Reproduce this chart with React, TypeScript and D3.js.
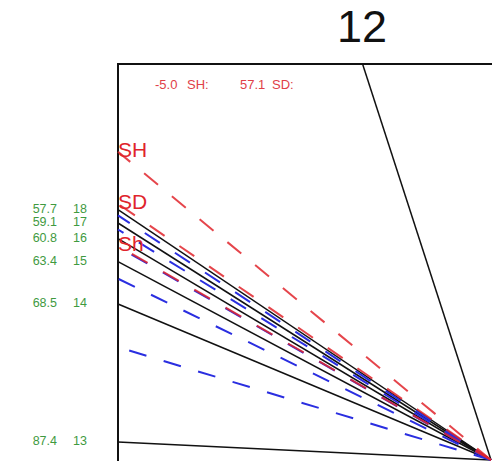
import { useRef, useEffect } from 'react'
import * as d3 from 'd3'

// angles (deg from vertical) of the fan lines, all meeting at the pivot
const levels = ['18', '17', '16', '15', '14', '13']
const levelAngles = [57.7, 59.1, 60.8, 63.4, 68.5, 87.4]
const blueAngles = [58.3, 59.8, 61.7, 65.4, 74.1]
const redLabels = ['SH', 'SD', 'Sh']
const redAngles = [52.1, 57.1, 61.6]
const refAngle = 19
const headerTexts = ['-5.0', 'SH:', '57.1', 'SD:']
const title = '12'

const W = 492
const H = 461
const FONT = "Arial, 'Liberation Sans', sans-serif"

export default function App() {
  const svgRef = useRef<SVGSVGElement>(null)

  useEffect(() => {
    const svg = d3.select(svgRef.current)
    svg.selectAll('*').remove()

    const left = 118
    const top = 64
    const px = 491
    const py = 460

    const x = d3.scaleLinear().domain([-1, 0]).range([left, px])
    const y = d3.scaleLinear().domain([0, 1]).range([py, top])
    const rad = (a: number) => (a * Math.PI) / 180

    // end of a ray at angle a, clipped to the left / top edge
    const rayEnd = (a: number): [number, number] => {
      const c = 1 / Math.tan(rad(a))
      return c <= 1 ? [-1, c] : [-Math.tan(rad(a)), 1]
    }
    const line = d3
      .line<[number, number]>()
      .x((d) => x(d[0]))
      .y((d) => y(d[1]))
    const ray = (a: number) => line([[0, 0], rayEnd(a)])

    // title
    svg
      .append('text')
      .attr('x', 362)
      .attr('y', 42)
      .attr('text-anchor', 'middle')
      .attr('font-family', FONT)
      .attr('font-size', 45)
      .attr('fill', '#111')
      .text(title)

    // frame
    svg
      .append('path')
      .attr('d', `M${x(-1)},${H}V${y(1)}H${W}`)
      .attr('fill', 'none')
      .attr('stroke', '#111')
      .attr('stroke-width', 2)

    // reference ray
    svg
      .append('path')
      .attr('d', ray(refAngle))
      .attr('stroke', '#111')
      .attr('stroke-width', 1.5)
      .attr('fill', 'none')

    // black level rays + green labels
    levelAngles.forEach((a, i) => {
      svg
        .append('path')
        .attr('d', ray(a))
        .attr('stroke', '#111')
        .attr('stroke-width', 1.5)
        .attr('fill', 'none')
      const yy = y(1 / Math.tan(rad(a)))
      svg
        .append('text')
        .attr('x', 57)
        .attr('y', yy)
        .attr('text-anchor', 'end')
        .attr('dominant-baseline', 'middle')
        .attr('font-family', FONT)
        .attr('font-size', 12.5)
        .attr('fill', '#3f9a3f')
        .text(a.toFixed(1))
      svg
        .append('text')
        .attr('x', 73)
        .attr('y', yy)
        .attr('dominant-baseline', 'middle')
        .attr('font-family', FONT)
        .attr('font-size', 12.5)
        .attr('fill', '#3f9a3f')
        .text(levels[i])
    })

    // blue dashed rays
    blueAngles.forEach((a) => {
      svg
        .append('path')
        .attr('d', ray(a))
        .attr('stroke', '#2a2ee0')
        .attr('stroke-width', 2)
        .attr('stroke-dasharray', '18,18')
        .attr('fill', 'none')
    })

    // red dashed rays + labels
    redAngles.forEach((a, i) => {
      svg
        .append('path')
        .attr('d', ray(a))
        .attr('stroke', '#e0242c')
        .attr('stroke-opacity', 0.85)
        .attr('stroke-width', 2)
        .attr('stroke-dasharray', '18,18')
        .attr('fill', 'none')
      svg
        .append('text')
        .attr('x', x(-1))
        .attr('y', y(1 / Math.tan(rad(a))))
        .attr('dominant-baseline', 'middle')
        .attr('font-family', FONT)
        .attr('font-size', 21)
        .attr('fill', '#e0242c')
        .text(redLabels[i])
    })

    // header
    const hx = [155, 187, 240, 272]
    headerTexts.forEach((t, i) => {
      svg
        .append('text')
        .attr('x', hx[i])
        .attr('y', 89)
        .attr('font-family', FONT)
        .attr('font-size', 13)
        .attr('fill', '#e04048')
        .text(t)
    })
  }, [])

  return (
    <svg
      ref={svgRef}
      width={W}
      height={H}
      style={{ position: 'absolute', left: 0, top: 0, background: '#fff' }}
    />
  )
}
